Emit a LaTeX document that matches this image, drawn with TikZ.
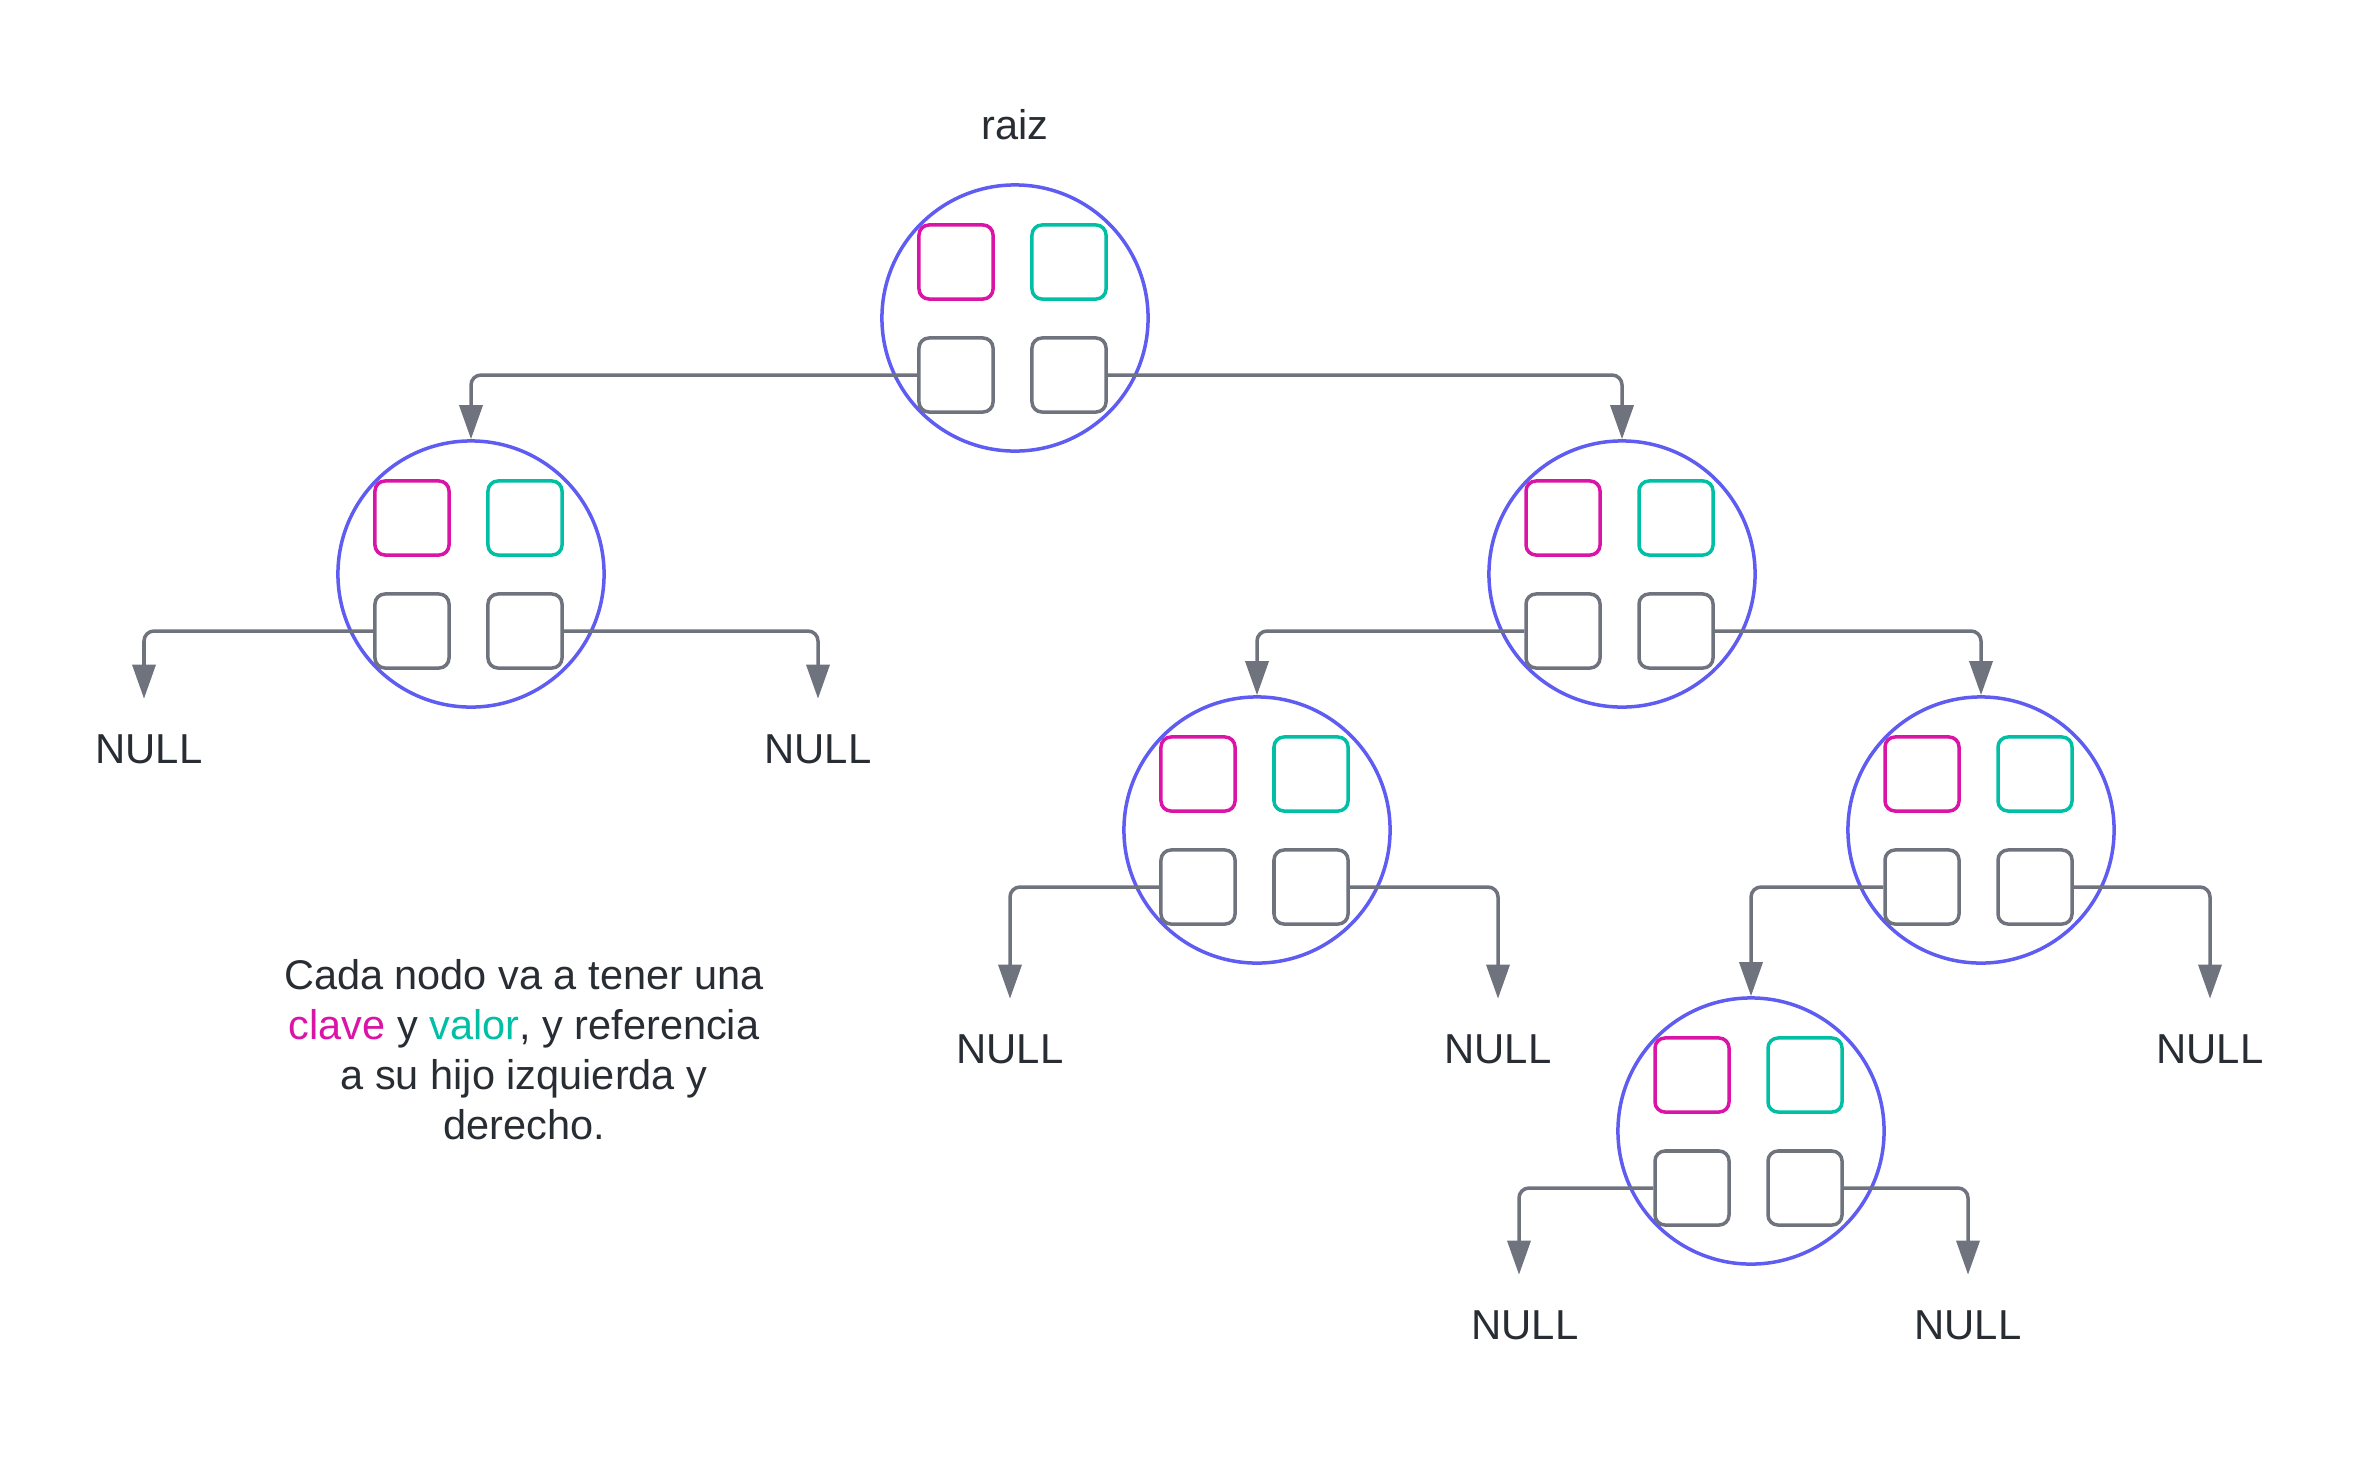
\documentclass[tikz,border=0pt]{standalone}
\usepackage{fontspec}
\setmainfont{Liberation Sans}
\usetikzlibrary{arrows.meta, positioning}
\definecolor{circulo}{HTML}{5F5CF2}
\definecolor{rosa}{HTML}{D914A6}
\definecolor{turquesa}{HTML}{00BFA5}
\definecolor{gris}{HTML}{6E737D}
\definecolor{texto}{HTML}{282C33}

\begin{document}
\begin{tikzpicture}[
    x=0.01cm, y=-0.01cm,
    nodo/.style={circle, draw=circulo, line width=0.035cm, minimum size=2.66cm, inner sep=0pt},
    caja/.style={rectangle, draw=gris, line width=0.035cm, rounded corners=1mm, minimum size=0.74cm, inner sep=0pt},
    clave/.style={caja, draw=rosa},
    valor/.style={caja, draw=turquesa},
    ptr/.style={-{Triangle[length=3.4mm, width=2.3mm]}, color=gris, line width=0.035cm, rounded corners=1mm},
    nulo/.style={font=\fontsize{11.9}{14}\selectfont, text=texto, inner xsep=0pt, inner ysep=3.5mm},
    etiqueta/.style={font=\fontsize{11.8}{14.2}\selectfont, text=texto, align=center}
]
\useasboundingbox (0,0) rectangle (2361,1463);

% nodos del arbol
\foreach \n/\x/\y in {raiz/1015/318, izq/471/574, der/1622/574, derI/1257/830, derD/1981/830, derDI/1751/1131} {
    \node[nodo] (\n) at (\x,\y) {};
    \node[clave] (\n-k) at (\x-59,\y-56) {};
    \node[valor] (\n-v) at (\x+54,\y-56) {};
    \node[caja] (\n-l) at (\x-59,\y+57) {};
    \node[caja] (\n-r) at (\x+54,\y+57) {};
}

\node[etiqueta] (lraiz) at (1015,125) {raiz};

% hojas NULL
\node[nulo] (n1) at (149,749) {NULL};
\node[nulo] (n2) at (818,749) {NULL};
\node[nulo] (n3) at (1010,1049) {NULL};
\node[nulo] (n4) at (1498,1049) {NULL};
\node[nulo] (n5) at (2210,1049) {NULL};
\node[nulo] (n6) at (1525,1325) {NULL};
\node[nulo] (n7) at (1968,1325) {NULL};

% referencias
\draw[ptr] (raiz-l.west) -| (izq.north);
\draw[ptr] (raiz-r.east) -| (der.north);
\draw[ptr] (izq-l.west) -| ([xshift=-0.05cm]n1.north);
\draw[ptr] (izq-r.east) -| (n2.north);
\draw[ptr] (der-l.west) -| (derI.north);
\draw[ptr] (der-r.east) -| (derD.north);
\draw[ptr] (derI-l.west) -| (n3.north);
\draw[ptr] (derI-r.east) -| (n4.north);
\draw[ptr] (derD-l.west) -| (derDI.north);
\draw[ptr] (derD-r.east) -| (n5.north);
\draw[ptr] (derDI-l.west) -| ([xshift=-0.06cm]n6.north);
\draw[ptr] (derDI-r.east) -| (n7.north);

\node[etiqueta] (nota) at (524,1050) {Cada nodo va a tener una\\
    \textcolor{rosa}{clave} y \textcolor{turquesa}{valor}, y referencia\\
    a su hijo izquierda y\\ derecho.};
\end{tikzpicture}
\end{document}
